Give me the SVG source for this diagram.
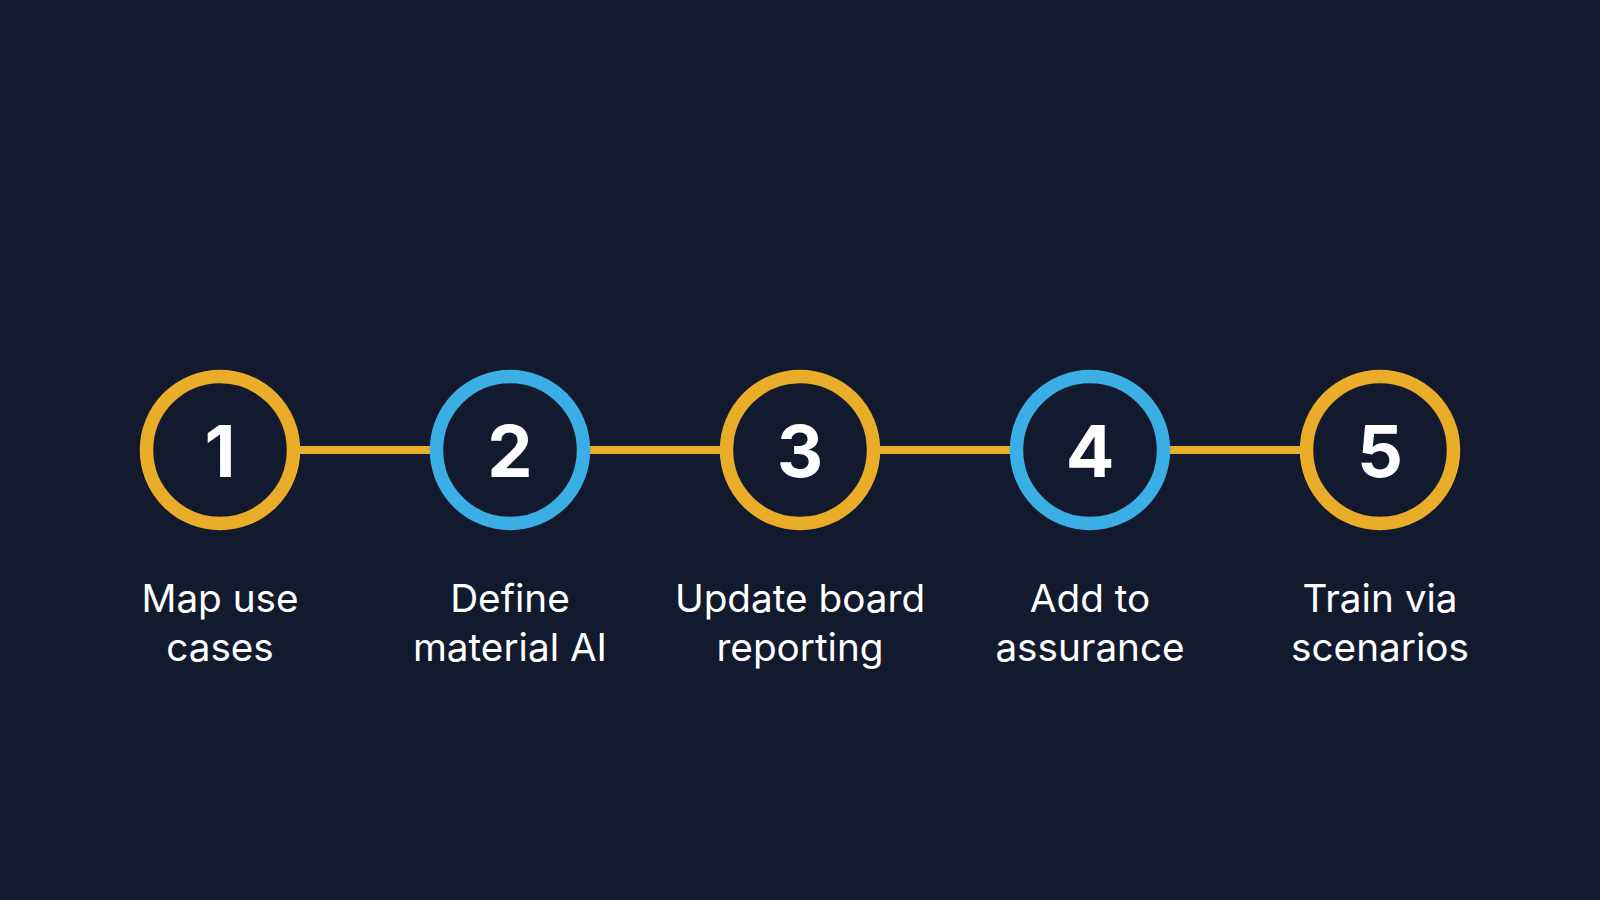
<svg xmlns="http://www.w3.org/2000/svg" width="1600" height="900" viewBox="0 0 1600 900">
<style>
.ring{fill:#131a2e;stroke-width:13.5}
.o{stroke:#e9ad2a}
.b{stroke:#3caee6}
.num{font-family:Inter,"Liberation Sans",sans-serif;font-weight:700;font-size:72px;fill:#ffffff;text-anchor:middle}
.lbl{font-family:Inter,"Liberation Sans",sans-serif;font-weight:400;font-size:38.7px;fill:#ffffff;text-anchor:middle}
.conn{stroke:#e9ad2a;stroke-width:8;fill:none}
</style>
<rect width="1600" height="900" fill="#131a2e"/>
<g id="connectors">
<line class="conn" x1="293" y1="450" x2="437" y2="450"/>
<line class="conn" x1="583" y1="450" x2="727" y2="450"/>
<line class="conn" x1="873" y1="450" x2="1017" y2="450"/>
<line class="conn" x1="1163" y1="450" x2="1307" y2="450"/>
</g>
<g id="step1">
<circle class="ring o" cx="220" cy="450" r="73.5"/>
<text class="num" x="220" y="477">1</text>
<text class="lbl" x="220" y="612">Map use</text>
<text class="lbl" x="220" y="661">cases</text>
</g>
<g id="step2">
<circle class="ring b" cx="510" cy="450" r="73.5"/>
<text class="num" x="510" y="477">2</text>
<text class="lbl" x="510" y="612">Define</text>
<text class="lbl" x="510" y="661">material AI</text>
</g>
<g id="step3">
<circle class="ring o" cx="800" cy="450" r="73.5"/>
<text class="num" x="800" y="477">3</text>
<text class="lbl" x="800" y="612">Update board</text>
<text class="lbl" x="800" y="661">reporting</text>
</g>
<g id="step4">
<circle class="ring b" cx="1090" cy="450" r="73.5"/>
<text class="num" x="1090" y="477">4</text>
<text class="lbl" x="1090" y="612">Add to</text>
<text class="lbl" x="1090" y="661">assurance</text>
</g>
<g id="step5">
<circle class="ring o" cx="1380" cy="450" r="73.5"/>
<text class="num" x="1380" y="477">5</text>
<text class="lbl" x="1380" y="612">Train via</text>
<text class="lbl" x="1380" y="661">scenarios</text>
</g>
</svg>
